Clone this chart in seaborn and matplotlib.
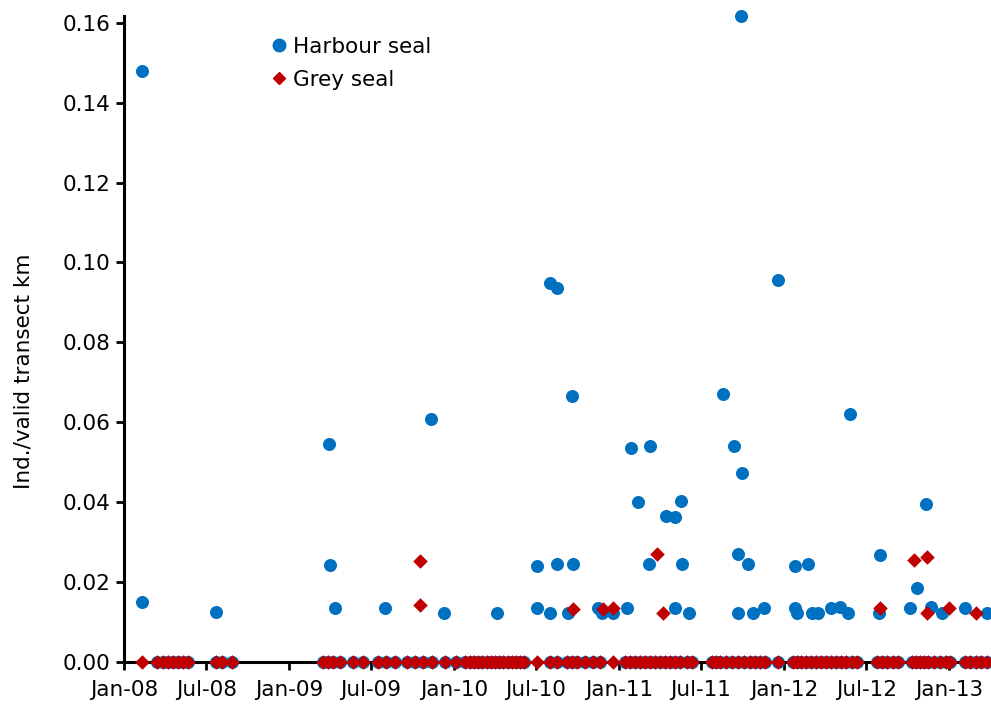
import matplotlib
matplotlib.use("Agg")
import matplotlib.pyplot as plt
import matplotlib.dates as mdates
from matplotlib.lines import Line2D
import pandas as pd
import seaborn as sns

# Harbour seal densities (individuals per valid transect km) on surveys with sightings
harbour_dates = [
    "2008-02-10", "2008-02-11", "2008-07-23", "2009-03-30", "2009-03-31", "2009-04-12",
    "2009-08-01", "2009-11-11", "2009-12-10", "2010-04-06", "2010-07-04", "2010-07-03",
    "2010-07-31", "2010-08-01", "2010-08-17", "2010-08-16", "2010-09-19", "2010-09-20",
    "2010-09-10", "2010-11-16", "2010-11-24", "2010-12-19", "2011-01-19", "2011-01-28",
    "2011-02-12", "2011-03-11", "2011-03-09", "2011-04-15", "2011-05-05", "2011-05-18",
    "2011-05-20", "2011-05-04", "2011-06-05", "2011-08-20", "2011-09-13", "2011-09-28",
    "2011-09-29", "2011-09-22", "2011-09-21", "2011-10-14", "2011-10-25", "2011-11-18",
    "2011-12-19", "2012-01-26", "2012-01-25", "2012-01-30", "2012-02-24", "2012-03-04",
    "2012-03-17", "2012-04-13", "2012-05-05", "2012-05-22", "2012-05-27", "2012-07-31",
    "2012-07-30", "2012-10-06", "2012-10-21", "2012-11-10", "2012-11-21", "2012-12-16",
    "2013-02-05", "2013-03-26",
]
harbour_values = [
    0.148, 0.015, 0.0124, 0.0545, 0.0242, 0.0136,
    0.0135, 0.0607, 0.0123, 0.0123, 0.0135, 0.0240,
    0.0948, 0.0122, 0.0937, 0.0245, 0.0667, 0.0245,
    0.0122, 0.0135, 0.0122, 0.0122, 0.0135, 0.0536,
    0.0401, 0.0541, 0.0245, 0.0366, 0.0364, 0.0404,
    0.0245, 0.0135, 0.0122, 0.0672, 0.0540, 0.1618,
    0.0472, 0.0270, 0.0122, 0.0245, 0.0122, 0.0135,
    0.0955, 0.0240, 0.0135, 0.0122, 0.0245, 0.0122,
    0.0122, 0.0135, 0.0137, 0.0122, 0.0620, 0.0268,
    0.0122, 0.0135, 0.0186, 0.0395, 0.0138, 0.0122,
    0.0135, 0.0122,
]

# Grey seal densities on surveys with sightings
grey_dates = [
    "2009-10-18", "2009-10-17", "2010-09-21", "2010-11-27", "2010-12-19", "2011-03-26",
    "2011-04-08", "2012-07-31", "2012-10-15", "2012-11-13", "2012-11-12", "2013-01-01",
    "2013-03-01",
]
grey_values = [
    0.0252, 0.0142, 0.0133, 0.0133, 0.0135, 0.0270,
    0.0122, 0.0135, 0.0255, 0.0263, 0.0122, 0.0135,
    0.0122,
]

# Surveys with no grey seal sightings
zero_dates = [
    "2008-02-11", "2008-03-14", "2008-03-27", "2008-04-08", "2008-04-19", "2008-04-30",
    "2008-05-11", "2008-05-22", "2008-07-23", "2008-08-05", "2008-08-27",
    "2009-03-17", "2009-03-28", "2009-04-08", "2009-04-23", "2009-05-22", "2009-06-13",
    "2009-07-17", "2009-08-03", "2009-08-23", "2009-09-19", "2009-10-07", "2009-10-25",
    "2009-11-13", "2009-12-12",
    "2010-01-05", "2010-01-25", "2010-02-05", "2010-02-14", "2010-02-23", "2010-03-04",
    "2010-03-15", "2010-03-24", "2010-04-02", "2010-04-10", "2010-04-19", "2010-04-30",
    "2010-05-09", "2010-05-18", "2010-05-27", "2010-06-05", "2010-07-04", "2010-08-01",
    "2010-08-17", "2010-09-08", "2010-09-19", "2010-09-30", "2010-10-18", "2010-11-05",
    "2010-11-20", "2010-12-19",
    "2011-01-14", "2011-01-25", "2011-02-05", "2011-02-16", "2011-02-27", "2011-03-11",
    "2011-03-22", "2011-04-02", "2011-04-13", "2011-04-24", "2011-05-05", "2011-05-16",
    "2011-06-01", "2011-06-12", "2011-07-26", "2011-08-04", "2011-08-13", "2011-08-26",
    "2011-09-08", "2011-09-21", "2011-10-05", "2011-10-18", "2011-10-29", "2011-11-09",
    "2011-11-20", "2011-12-19",
    "2012-01-20", "2012-01-30", "2012-02-08", "2012-02-19", "2012-03-01", "2012-03-12",
    "2012-03-23", "2012-04-03", "2012-04-14", "2012-04-25", "2012-05-07", "2012-05-18",
    "2012-05-31", "2012-06-11", "2012-07-25", "2012-08-05", "2012-08-16", "2012-08-29",
    "2012-09-10", "2012-10-11", "2012-10-19", "2012-10-28", "2012-11-06", "2012-11-15",
    "2012-11-28", "2012-12-12", "2012-12-25",
    "2013-01-03", "2013-02-05", "2013-02-16", "2013-03-01", "2013-03-12", "2013-03-26",
]
# Of those, surveys where harbour seals were seen
harbour_seen_dates = ["2008-02-11", "2010-07-04", "2010-12-19"]

y_ticks = [0.00, 0.02, 0.04, 0.06, 0.08, 0.10, 0.12, 0.14, 0.16]

harbour_zero_dates = [d for d in zero_dates if d not in harbour_seen_dates]

harbour = pd.DataFrame({
    "date": pd.to_datetime(harbour_dates + harbour_zero_dates),
    "density": harbour_values + [0.0] * len(harbour_zero_dates),
})
grey = pd.DataFrame({
    "date": pd.to_datetime(grey_dates + zero_dates),
    "density": grey_values + [0.0] * len(zero_dates),
})

BLUE = "#0070C0"
RED = "#C00000"
FS = 15.5

sns.set_theme(style="white")
plt.rcParams["font.family"] = ["DejaVu Sans"]
plt.rcParams["text.color"] = "black"
plt.rcParams["axes.labelcolor"] = "black"

fig = plt.figure(figsize=(9.91, 7.09), dpi=100)
ax = fig.add_axes([0.1251, 0.0663, 0.8739, 0.9117])

sns.scatterplot(data=harbour, x="date", y="density", marker="o", color=BLUE,
                s=88, linewidth=0, ax=ax, zorder=3)
sns.scatterplot(data=grey, x="date", y="density", marker="D", color=RED,
                s=55, linewidth=0, ax=ax, zorder=4)
for coll in ax.collections:
    coll.set_clip_on(False)

ax.set_xlim(pd.Timestamp("2008-01-01"), pd.Timestamp("2013-04-01"))
ax.set_ylim(0, 0.1618)
ax.set_yticks(y_ticks)
ax.yaxis.set_major_formatter(matplotlib.ticker.FormatStrFormatter("%.2f"))
ax.xaxis.set_major_locator(mdates.MonthLocator(bymonth=[1, 7]))
ax.xaxis.set_major_formatter(mdates.DateFormatter("%b-%y"))

ax.set_xlabel("")
ax.set_ylabel("Ind./valid transect km", fontsize=FS)
ax.yaxis.set_label_coords(-0.104, 0.45)

for side in ("top", "right"):
    ax.spines[side].set_visible(False)
for side in ("left", "bottom"):
    ax.spines[side].set_color("black")
    ax.spines[side].set_linewidth(2.2)
ax.spines["bottom"].set_zorder(2)

ax.tick_params(axis="both", which="major", direction="out", length=6, width=2,
               color="black", labelsize=FS, labelcolor="black", pad=4,
               bottom=True, left=True)
ax.tick_params(axis="x", pad=7)

handles = [
    Line2D([], [], linestyle="none", marker="o", markersize=9, color=BLUE),
    Line2D([], [], linestyle="none", marker="D", markersize=6.5, color=RED),
]
ax.legend(handles, ["Harbour seal", "Grey seal"], loc="upper left",
          bbox_to_anchor=(0.143, 0.997), frameon=False, fontsize=FS,
          handletextpad=0.1, handlelength=1.1, labelspacing=0.6)

fig.savefig("out.png", dpi=100)
